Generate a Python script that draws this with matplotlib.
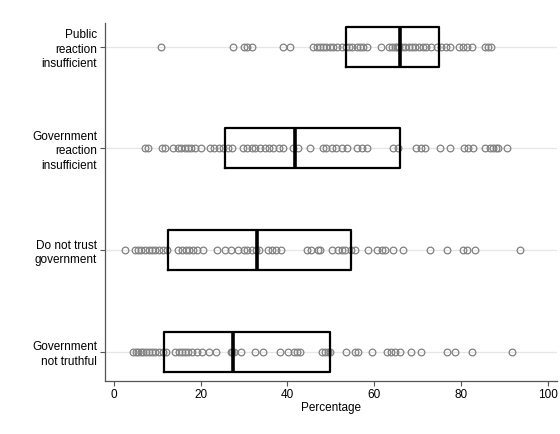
import numpy as np
import matplotlib
matplotlib.use("Agg")
import matplotlib.pyplot as plt

plt.rcParams['font.family'] = ['Liberation Sans', 'DejaVu Sans']

# categories, top to bottom
categories = ['Public\nreaction\ninsufficient',
              'Government\nreaction\ninsufficient',
              'Do not trust\ngovernment',
              'Government\nnot truthful']

public_reaction = [10.8, 27.4, 30.0, 30.6, 31.9, 38.9, 40.7, 46.0, 46.8, 47.5, 48.2, 49.0,
                   49.8, 50.5, 51.5, 52.5, 53.5, 54.2, 55.0, 56.0, 56.8, 57.5, 58.3, 61.6,
                   63.5, 64.2, 64.8, 65.3, 65.8, 66.5, 67.2, 68.0, 68.8, 69.5, 70.3, 71.2,
                   72.0, 73.0, 74.5, 75.5, 76.5, 77.5, 79.5, 80.5, 81.5, 82.5, 85.5, 86.3, 87.0]
gov_reaction = [7.3, 7.8, 11.0, 11.8, 13.7, 14.8, 15.5, 16.3, 17.0, 17.8, 18.8, 20.2, 22.1,
                23.0, 24.2, 25.2, 26.3, 27.3, 29.8, 30.8, 31.8, 32.6, 33.7, 34.8, 35.8, 36.8,
                38.0, 39.0, 41.3, 42.4, 45.2, 48.2, 49.0, 50.3, 51.3, 52.6, 53.7, 56.0, 57.2,
                58.4, 64.3, 65.5, 69.6, 70.7, 71.8, 75.2, 77.5, 80.8, 81.7, 82.8, 85.5, 86.6,
                87.3, 88.0, 88.5, 90.7]
no_trust = [2.5, 4.8, 5.5, 6.3, 7.3, 8.1, 8.8, 9.6, 10.5, 11.3, 12.2, 14.8, 15.8, 16.6, 17.4,
            18.3, 19.1, 20.6, 23.7, 25.6, 27.1, 28.7, 29.9, 30.8, 31.8, 32.8, 33.5, 35.6, 36.5,
            37.4, 38.6, 44.5, 45.4, 47.1, 47.6, 50.3, 51.6, 52.6, 53.4, 54.6, 55.5, 58.6, 60.6,
            61.7, 62.4, 64.3, 66.6, 72.9, 76.8, 80.6, 81.3, 83.2, 93.6]
not_truthful = [4.4, 5.0, 5.6, 6.2, 6.8, 7.4, 8.0, 8.7, 9.5, 10.3, 11.3, 12.1, 14.1, 15.0, 15.7,
                16.4, 17.2, 18.0, 19.2, 20.4, 22.0, 23.6, 26.9, 27.2, 27.6, 29.4, 32.5, 34.4,
                38.3, 40.1, 41.6, 42.2, 42.9, 48.0, 48.7, 49.3, 49.8, 53.6, 55.6, 56.2, 59.6,
                63.0, 63.9, 64.8, 65.9, 68.6, 70.9, 76.7, 78.6, 82.5, 91.7]

# box statistics (q1, median, q3)
q1 = [53.5, 25.6, 12.4, 11.6]
median = [65.9, 41.7, 32.9, 27.5]
q3 = [74.9, 65.9, 54.6, 49.8]

series = [public_reaction, gov_reaction, no_trust, not_truthful]
ypos = [3, 2, 1, 0]

fig = plt.figure(figsize=(5.6, 4.34), dpi=100)
ax = fig.add_axes([0.187, 0.122, 0.808, 0.825])

for y in ypos:
    ax.axhline(y, color='#e6e6e6', lw=0.9, zorder=0)

for vals, y in zip(series, ypos):
    ax.plot(vals, np.full(len(vals), y), 'o', ms=4.8, mfc='none', mec='#808080',
            mew=0.9, zorder=2)

stats = [dict(q1=a, med=m, q3=b, whislo=a, whishi=b, fliers=[])
         for a, m, b in zip(q1, median, q3)]
ax.bxp(stats, positions=ypos, widths=0.393, vert=False, showcaps=False,
       showfliers=False, patch_artist=False,
       boxprops=dict(color='black', lw=1.6),
       whiskerprops=dict(lw=0),
       medianprops=dict(color='black', lw=2.6), manage_ticks=False)

ax.set_xlim(-2.1, 102.2)
ax.set_ylim(-0.288, 3.233)
ax.set_xticks([0, 20, 40, 60, 80, 100])
ax.set_yticks(ypos)
ax.set_yticklabels(categories, linespacing=1.3)
ax.set_xlabel('Percentage', fontsize=8.5, labelpad=1)

ax.tick_params(axis='both', labelsize=8.5, color='#555555', length=3.5, width=0.8)
ax.tick_params(axis='x', pad=2)
ax.tick_params(axis='y', pad=2)
for s in ['top', 'right']:
    ax.spines[s].set_visible(False)
for s in ['left', 'bottom']:
    ax.spines[s].set_color('#555555')
    ax.spines[s].set_linewidth(0.9)

fig.savefig('out.png', dpi=100)
